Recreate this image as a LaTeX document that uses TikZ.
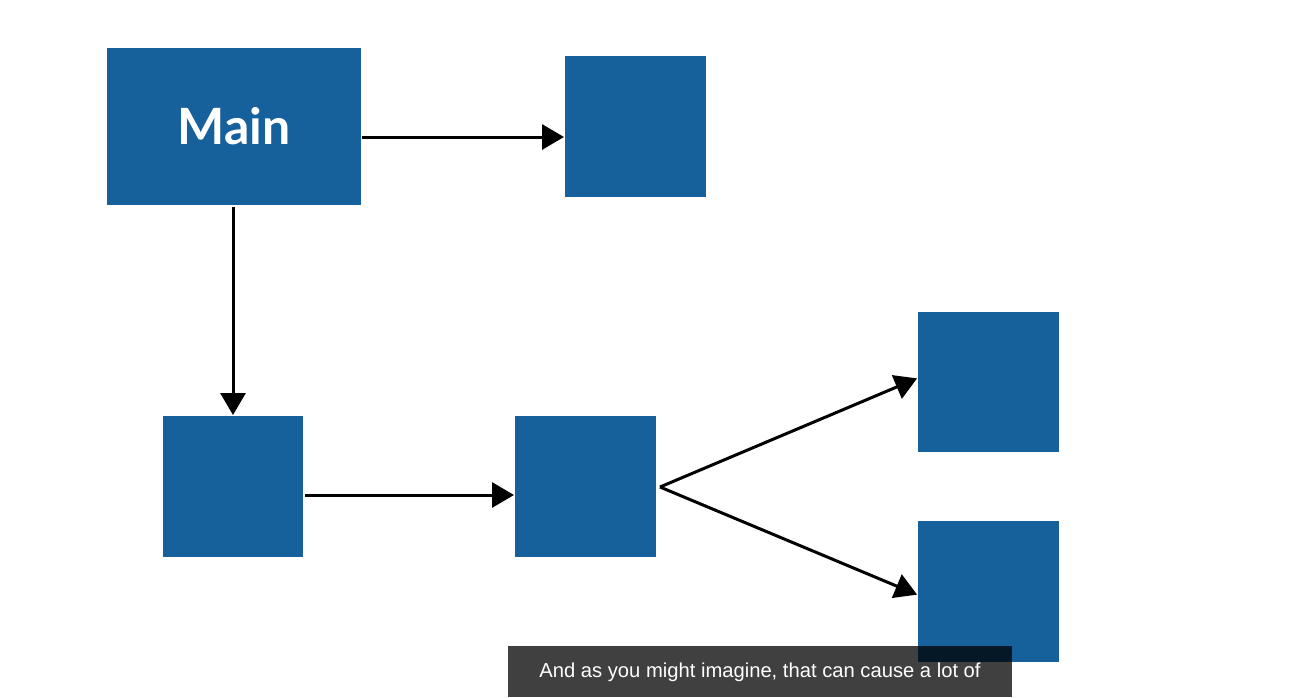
\documentclass[tikz,border=0pt]{standalone}
\usepackage{fontspec}
\setmainfont{Liberation Sans}
\newfontfamily\mainlabelfont{Lato}
\usetikzlibrary{arrows.meta}
\definecolor{boxblue}{RGB}{22,96,155}
\tikzset{
  blk/.style={fill=boxblue, draw=none, inner sep=0pt, outer sep=0pt},
  conn/.style={line width=3pt, -{Triangle[length=22pt,width=25pt]}, shorten >=1pt}
}
\begin{document}
\begin{tikzpicture}[x=1pt,y=-1pt]
\useasboundingbox (0,0) rectangle (1290,697);
\fill[white] (0,0) rectangle (1290,697);
% boxes
\node[blk, minimum width=254pt, minimum height=157pt] (main) at (234,126.5) {\mainlabelfont\bfseries\fontsize{50}{60}\selectfont\textcolor{white}{Main}};
\node[blk, minimum width=141pt, minimum height=141pt] (b2) at (635.5,126.5) {};
\node[blk, minimum width=140pt, minimum height=141pt] (b3) at (233,486.5) {};
\node[blk, minimum width=141pt, minimum height=141pt] (b4) at (585.5,486.5) {};
\node[blk, minimum width=141pt, minimum height=140pt] (b5) at (988.5,382) {};
\node[blk, minimum width=141pt, minimum height=141pt] (b6) at (988.5,591.5) {};
% connectors
\coordinate (fork) at (660,487);
\draw[conn] (main.east |- 0,137) ++(1,0) -- (b2.west |- 0,137);
\draw[conn] (b3.north |- main.south) ++(0,2) -- (b3.north);
\draw[conn] (b3.east |- 0,495) ++(2,0) -- (b4.west |- 0,495);
\draw[conn] (fork) -- (b5.west |- 0,378);
\draw[conn] (fork) -- (b6.west |- 0,595);
% caption bar
\fill[black, fill opacity=0.75] (508,646) rectangle (1012,697);
\node[anchor=base, text=white, inner sep=0pt] (cap) at (760,677) {\fontsize{20.2}{24}\selectfont And as you might imagine, that can cause a lot of};
\end{tikzpicture}
\end{document}
